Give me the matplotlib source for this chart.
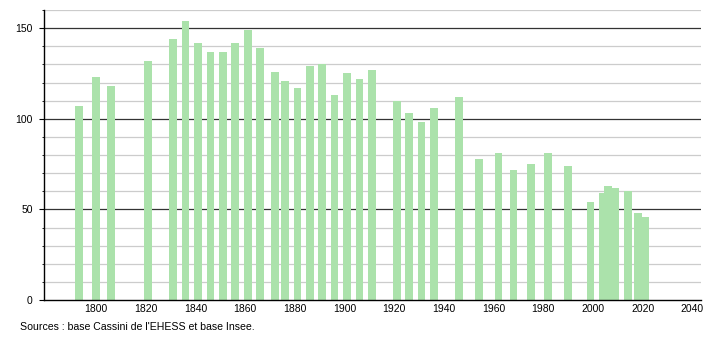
import matplotlib.pyplot as plt
import numpy as np

plt.rcParams['font.family'] = ['Liberation Sans', 'DejaVu Sans']

# Population data
years = np.array([1793, 1800, 1806, 1821, 1831, 1836, 1841, 1846, 1851, 1856,
                  1861, 1866, 1872, 1876, 1881, 1886, 1891, 1896, 1901, 1906,
                  1911, 1921, 1926, 1931, 1936, 1946, 1954, 1962, 1968, 1975,
                  1982, 1990, 1999, 2004, 2006, 2009, 2014, 2018, 2021])
population = np.array([107, 123, 118, 132, 144, 154, 142, 137, 137, 142,
                       149, 139, 126, 121, 117, 129, 130, 113, 125, 122,
                       127, 110, 103, 98, 106, 112, 78, 81, 72, 75,
                       81, 74, 54, 59, 63, 62, 60, 48, 46])

fig = plt.figure(figsize=(7.1, 3.4), dpi=100)
ax = fig.add_axes([44 / 710, 40 / 340, 657 / 710, 290 / 340])

# grid: light lines every 10, dark lines every 50
for v in range(10, 170, 10):
    if v % 50 == 0:
        ax.axhline(v, color="#333333", lw=0.9, zorder=1)
    else:
        ax.axhline(v, color="#cccccc", lw=0.9, zorder=1)

ax.bar(years, population, width=3.1, color="#abe2ab", zorder=2)

ax.set_xlim(1779, 2043.5)
ax.set_ylim(0, 160)

ax.set_xticks(np.arange(1800, 2041, 20))
ax.set_yticks([0, 50, 100, 150])
ax.set_yticks(np.arange(0, 161, 10), minor=True)
ax.tick_params(axis="x", length=0, labelsize=7.5, pad=3)
ax.tick_params(axis="y", which="major", length=3.6, labelsize=7.5, pad=4.5)
ax.tick_params(axis="y", which="minor", length=1.6)

for side in ["top", "right"]:
    ax.spines[side].set_visible(False)
ax.spines["left"].set_linewidth(1.0)
ax.spines["bottom"].set_linewidth(1.0)

fig.text(20 / 710, 1 - 327 / 340, "Sources : base Cassini de l'EHESS et base Insee.",
         fontsize=7.6, va="center", ha="left")

fig.savefig("out.png", dpi=100)
